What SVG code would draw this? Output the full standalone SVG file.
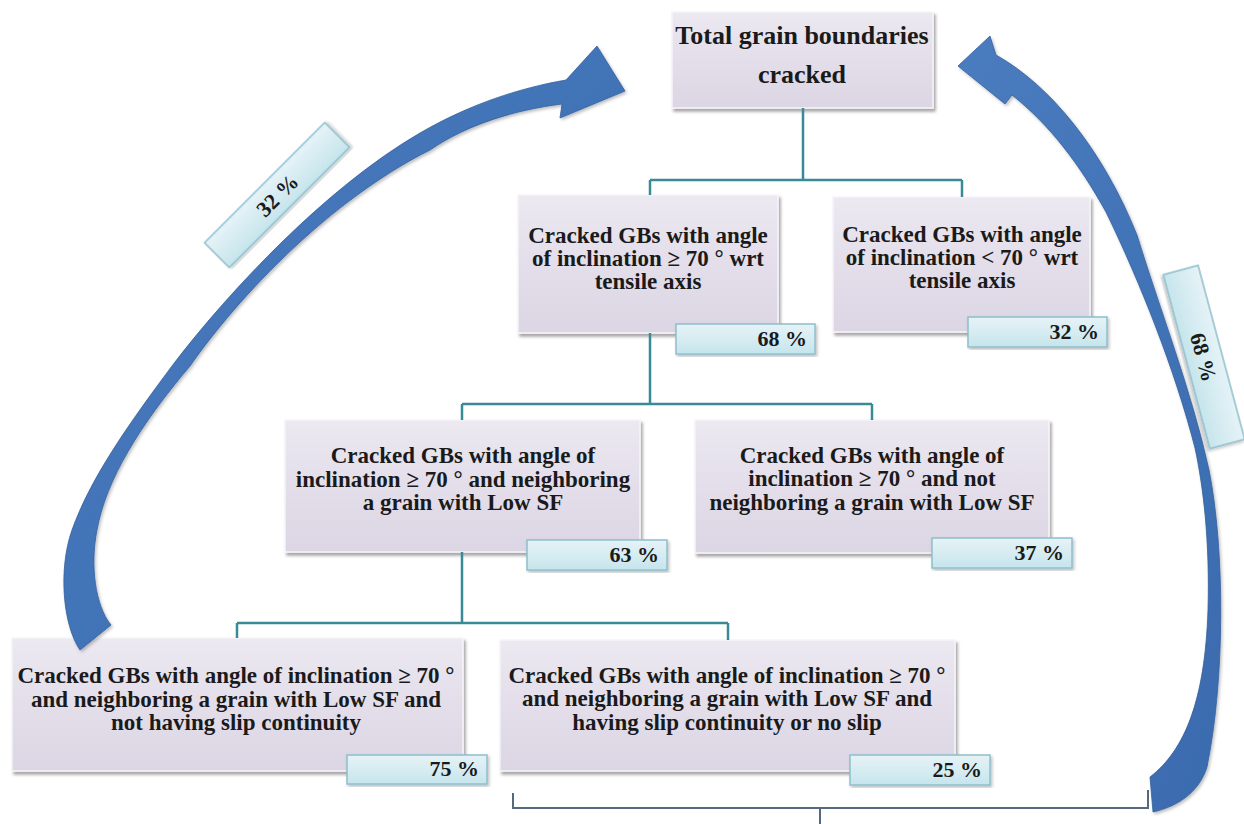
<svg xmlns="http://www.w3.org/2000/svg" width="1244" height="824" viewBox="0 0 1244 824">
  <defs>
    <linearGradient id="nodeFill" x1="0" y1="0" x2="0" y2="1">
      <stop offset="0" stop-color="#ECE9F1"/>
      <stop offset="0.5" stop-color="#E3DEEA"/>
      <stop offset="1" stop-color="#DCD6E4"/>
    </linearGradient>
    <linearGradient id="pctFill" x1="0" y1="0" x2="0" y2="1">
      <stop offset="0" stop-color="#E6F3F7"/>
      <stop offset="1" stop-color="#C6E5EC"/>
    </linearGradient>
    <linearGradient id="arrowFill" x1="0" y1="0" x2="1" y2="1">
      <stop offset="0" stop-color="#4A7CC0"/>
      <stop offset="1" stop-color="#3A6BAE"/>
    </linearGradient>
    <filter id="shadow" x="-10%" y="-10%" width="120%" height="130%">
      <feDropShadow dx="2" dy="3" stdDeviation="1.8" flood-color="#000" flood-opacity="0.35"/>
    </filter>
    <filter id="softShadow" x="-10%" y="-10%" width="120%" height="120%">
      <feDropShadow dx="1.5" dy="2" stdDeviation="1.5" flood-color="#000" flood-opacity="0.25"/>
    </filter>
  </defs>
  <style>
    .box { fill: url(#nodeFill); stroke: #F6F4F9; stroke-width: 1.5; filter: url(#shadow); }
    .pct { fill: url(#pctFill); stroke: #8DBFCC; stroke-width: 1.5; filter: url(#softShadow); }
    .t { font-family: "Liberation Serif", "Times New Roman", serif; font-weight: bold; fill: #1A1A1A; text-anchor: middle; }
    .n { font-size: 23px; }
    .top { font-size: 26px; }
    .p { font-family: "Liberation Serif", "Times New Roman", serif; font-weight: bold; font-size: 22px; fill: #1A1A1A; text-anchor: end; }
    .pc { font-family: "Liberation Serif", "Times New Roman", serif; font-weight: bold; font-size: 22px; fill: #1A1A1A; text-anchor: middle; }
    .tree { fill: none; stroke: #3A8A96; stroke-width: 2.5; }
    .bracket { fill: none; stroke: #56687F; stroke-width: 2; }
    .arrow { fill: url(#arrowFill); stroke: #35609C; stroke-width: 0.8; filter: url(#softShadow); }
  </style>

  <rect width="1244" height="824" fill="#FFFFFF"/>

  <!-- root -->
  <g id="node-total">
    <rect class="box" x="672" y="12" width="261" height="96"/>
    <text class="t top" x="802" y="44">Total grain boundaries</text>
    <text class="t top" x="802" y="83">cracked</text>
  </g>

  <!-- second level -->
  <g id="node-ge70">
    <rect class="box" x="518" y="195" width="260" height="138"/>
    <text class="t n" x="648" y="243">Cracked GBs with angle</text>
    <text class="t n" x="648" y="266">of inclination ≥ 70 ° wrt</text>
    <text class="t n" x="648" y="289">tensile axis</text>
    <rect class="pct" x="676" y="324" width="139" height="30"/>
    <text class="p" x="807" y="346">68 %</text>
  </g>

  <g id="node-lt70">
    <rect class="box" x="833" y="197" width="257" height="135"/>
    <text class="t n" x="962" y="242">Cracked GBs with angle</text>
    <text class="t n" x="962" y="265">of inclination &lt; 70 ° wrt</text>
    <text class="t n" x="962" y="288">tensile axis</text>
    <rect class="pct" x="968" y="317" width="139" height="30"/>
    <text class="p" x="1099" y="339">32 %</text>
  </g>

  <!-- third level -->
  <g id="node-lowsf">
    <rect class="box" x="285" y="420" width="355" height="132"/>
    <text class="t n" x="463" y="463">Cracked GBs with angle of</text>
    <text class="t n" x="463" y="487">inclination ≥ 70 ° and neighboring</text>
    <text class="t n" x="463" y="510">a grain with Low SF</text>
    <rect class="pct" x="527" y="540" width="140" height="30"/>
    <text class="p" x="659" y="562">63 %</text>
  </g>

  <g id="node-not-lowsf">
    <rect class="box" x="695" y="420" width="354" height="133"/>
    <text class="t n" x="872" y="463">Cracked GBs with angle of</text>
    <text class="t n" x="872" y="486">inclination ≥ 70 ° and not</text>
    <text class="t n" x="872" y="510">neighboring a grain with Low SF</text>
    <rect class="pct" x="932" y="538" width="140" height="30"/>
    <text class="p" x="1064" y="560">37 %</text>
  </g>

  <!-- fourth level -->
  <g id="node-no-slip-cont">
    <rect class="box" x="12" y="638" width="451" height="133"/>
    <text class="t n" x="236" y="683">Cracked GBs with angle of inclination ≥ 70 °</text>
    <text class="t n" x="236" y="707">and neighboring a grain with Low SF and</text>
    <text class="t n" x="236" y="730">not having slip continuity</text>
    <rect class="pct" x="347" y="755" width="140" height="29"/>
    <text class="p" x="479" y="776">75 %</text>
  </g>

  <g id="node-slip-cont">
    <rect class="box" x="500" y="640" width="455" height="131"/>
    <text class="t n" x="727" y="683">Cracked GBs with angle of inclination ≥ 70 °</text>
    <text class="t n" x="727" y="706">and neighboring a grain with Low SF and</text>
    <text class="t n" x="727" y="730">having slip continuity or no slip</text>
    <rect class="pct" x="850" y="755" width="140" height="30"/>
    <text class="p" x="982" y="777">25 %</text>
  </g>

  <!-- rotated share labels beside the curved arrows -->
  <g id="label-left-32">
    <g transform="translate(277 195) rotate(-45)">
      <rect class="pct" x="-85" y="-17.5" width="170" height="35"/>
      <text class="pc" x="0" y="8">32 %</text>
    </g>
  </g>
  <g id="label-right-68">
    <g transform="translate(1204 357) rotate(75)">
      <rect class="pct" x="-90" y="-18" width="180" height="36"/>
      <text class="pc" x="0" y="8">68 %</text>
    </g>
  </g>

  <g id="connectors">
    <!-- tree links -->
    <path class="tree" d="M803 108 V180 M650 180 H962 M650 180 V195 M962 180 V197"/>
    <path class="tree" d="M650 333 V404 M462 404 H872 M462 404 V420 M872 404 V420"/>
    <path class="tree" d="M462 552 V623 M237 623 H728 M237 623 V638 M728 623 V640"/>
    <!-- bracket under the last level -->
    <path class="bracket" d="M513 793 V808 H1148 V790 M820 808 V824"/>
    <!-- curved arrow from the left branch up to the root -->
    <path class="arrow" d="M80 650
      C 63 625 58 570 72 530
      C 90 480 124 430 175 362
      C 228 293 325 188 420 133
      C 470 104 520 88 566 80
      L 597 46 L 625 91 L 560 118 L 562 104
      C 515 110 468 124 430 150
      C 330 200 238 297 190 366
      C 140 425 106 480 97 530
      C 90 565 95 605 111 625 Z"/>
    <!-- curved arrow from the bracket up to the root -->
    <path class="arrow" d="M958 66 L 990 36 L 996 55
      C 1050 85 1103 150 1137 235
      C 1160 310 1192 392 1209 470
      C 1225 550 1225 680 1207 767
      C 1200 790 1180 806 1153 812
      L 1150 777
      C 1185 750 1205 700 1208 610
      C 1210 540 1203 485 1195 448
      C 1175 370 1140 282 1106 212
      C 1080 165 1050 125 1012 95
      L 1005 104 Z"/>
  </g>
</svg>
